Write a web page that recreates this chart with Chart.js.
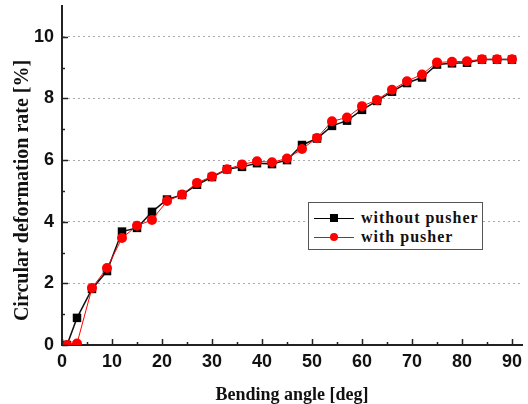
<!DOCTYPE html>
<html>
<head>
<meta charset="utf-8">
<script src="https://cdn.jsdelivr.net/npm/chart.js@4"></script>
<style>
  html, body { margin: 0; padding: 0; background: #fff; }
  #wrap { position: relative; width: 528px; height: 404px; }
  #legend {
    position: absolute; left: 308px; top: 202px; width: 173px; height: 46px;
    border: 1px solid #555; background: #fff;
    font-family: "Liberation Serif", "Times New Roman", serif; font-weight: bold; font-size: 16px;
    letter-spacing: 1px; color: #111;
  }
  .row { position: absolute; left: 5px; height: 20px; line-height: 20px; white-space: nowrap; }
  .row .line { position: absolute; left: 0; top: 9px; width: 40px; height: 1px; }
  .row .mk { position: absolute; }
  .row span.t { position: absolute; left: 47px; top: -1px; }
</style>
</head>
<body>
<div id="wrap">
  <canvas id="canvas" width="528" height="404"></canvas>
  <div id="legend">
    <div class="row" style="top:6px">
      <div class="line" style="background:#000"></div>
      <div class="mk" style="left:16px;top:5px;width:8px;height:8px;background:#000"></div>
      <span class="t">without pusher</span>
    </div>
    <div class="row" style="top:25px">
      <div class="line" style="background:#f00"></div>
      <div class="mk" style="left:16px;top:5px;width:8px;height:8px;background:#f00;border-radius:50%"></div>
      <span class="t">with pusher</span>
    </div>
  </div>
</div>
<script>
// bending angle [deg]
const angles = [1, 3, 6, 9, 12, 15, 18, 21, 24, 27, 30, 33, 36, 39, 42, 45,
                48, 51, 54, 57, 60, 63, 66, 69, 72, 75, 78, 81, 84, 87, 90];
// circular deformation rate [%]
const withoutPusher = [0, 0.88, 1.82, 2.4, 3.68, 3.8, 4.32, 4.72, 4.87, 5.2, 5.45, 5.7,
                       5.78, 5.9, 5.87, 6.0, 6.49, 6.7, 7.11, 7.28, 7.63, 7.92, 8.22, 8.5,
                       8.68, 9.1, 9.14, 9.16, 9.26, 9.26, 9.26];
const withPusher = [0, 0.05, 1.85, 2.5, 3.47, 3.87, 4.06, 4.67, 4.88, 5.26, 5.47, 5.7,
                    5.86, 5.96, 5.93, 6.05, 6.36, 6.72, 7.26, 7.38, 7.75, 7.95, 8.28, 8.56,
                    8.78, 9.17, 9.19, 9.21, 9.27, 9.27, 9.27];
const xTicks = [0, 10, 20, 30, 40, 50, 60, 70, 80, 90];
const yTicks = [0, 2, 4, 6, 8, 10];

function toPoints(ys) {
    return angles.map((a, i) => ({ x: a, y: ys[i] }));
}

// tick marks drawn inward, like the original plot
const innerTicks = {
    id: 'innerTicks',
    afterDraw(chart) {
        let ctx = chart.ctx;
        let xs = chart.scales.x, ys = chart.scales.y;
        ctx.save();
        ctx.strokeStyle = '#222';
        ctx.lineWidth = 1.5;
        ctx.beginPath();
        xs.ticks.forEach(t => {
            if (t.value > 90) return;
            let px = Math.round(xs.getPixelForValue(t.value)) + 0.5;
            let len = xTicks.includes(t.value) ? 6 : 3;
            ctx.moveTo(px, ys.bottom);
            ctx.lineTo(px, ys.bottom - len);
        });
        ys.ticks.forEach(t => {
            if (t.value > 10) return;
            let py = Math.round(ys.getPixelForValue(t.value)) + 0.5;
            let len = yTicks.includes(t.value) ? 6 : 3;
            ctx.moveTo(xs.left, py);
            ctx.lineTo(xs.left + len, py);
        });
        ctx.stroke();
        ctx.restore();
    }
};

let config = {
    type: 'line',
    data: {
        datasets: [
            {
                label: 'without pusher',
                data: toPoints(withoutPusher),
                borderColor: '#111',
                backgroundColor: '#000',
                borderWidth: 1.5,
                pointStyle: 'rect',
                pointRadius: 6,
                pointBorderWidth: 0,
                order: 2
            },
            {
                label: 'with pusher',
                data: toPoints(withPusher),
                borderColor: '#ff0000',
                backgroundColor: '#ff0000',
                borderWidth: 1,
                pointStyle: 'circle',
                pointRadius: 5,
                pointBorderWidth: 0,
                order: 1
            }
        ]
    },
    options: {
        responsive: false,
        animation: false,
        layout: { padding: { top: 6, right: 6, left: 0, bottom: 0 } },
        plugins: { legend: { display: false }, tooltip: { enabled: false } },
        scales: {
            x: {
                type: 'linear',
                min: 0,
                max: 92,
                afterFit(scale) {
                    scale.height = 59;
                    scale.paddingLeft = 0;
                    scale.paddingRight = 0;
                },
                border: { color: '#222', width: 2 },
                grid: { display: false, drawTicks: false },
                ticks: {
                    stepSize: 5,
                    includeBounds: false,
                    autoSkip: false,
                    maxRotation: 0,
                    padding: 6,
                    color: '#111',
                    font: { family: 'Liberation Sans', weight: 'bold', size: 18 },
                    callback: v => xTicks.includes(v) ? String(v) : ''
                },
                title: {
                    display: true,
                    text: 'Bending angle [deg]',
                    color: '#111',
                    padding: { top: 0, bottom: -2 },
                    font: { family: 'Liberation Serif', weight: 'bold', size: 18 }
                }
            },
            y: {
                min: 0,
                max: 11,
                afterFit(scale) {
                    scale.width = 62;
                    scale.paddingTop = 0;
                    scale.paddingBottom = 0;
                },
                border: { color: '#222', width: 2, dash: [2, 3] },
                grid: {
                    drawTicks: false,
                    color: ctx => (ctx.tick && yTicks.includes(ctx.tick.value) && ctx.tick.value > 0) ? '#aaaaaa' : 'rgba(0,0,0,0)',
                    lineWidth: 1
                },
                ticks: {
                    stepSize: 1,
                    padding: 8,
                    color: '#111',
                    font: { family: 'Liberation Sans', weight: 'bold', size: 18 },
                    callback: v => yTicks.includes(v) ? String(v) : ''
                },
                title: {
                    display: true,
                    text: 'Circular deformation rate [%]      ',
                    color: '#111',
                    padding: { top: 11, bottom: 0 },
                    font: { family: 'Liberation Serif', weight: 'bold', size: 20 }
                }
            }
        }
    },
    plugins: [innerTicks]
};

let canvas = document.querySelector('#canvas');
let chart = new Chart(canvas, config);
</script>
</body>
</html>
